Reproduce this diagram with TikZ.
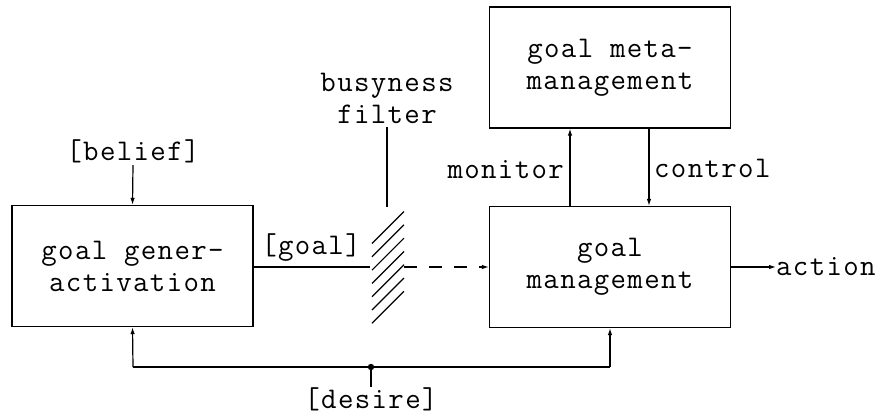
\documentclass[tikz,border=0pt]{standalone}
\usepackage{fontspec}
\newfontfamily\monofam{Latin Modern Mono}[LetterSpace=4.5]
\usetikzlibrary{arrows.meta}
\begin{document}
\begin{tikzpicture}[x=1pt,y=-1pt,
  every node/.style={font=\monofam\fontsize{30}{32}\selectfont, inner sep=0pt},
  box/.style={draw, line width=1.2pt, minimum width=241pt, minimum height=121pt, align=center},
  conn/.style={line width=1.2pt},
  arr/.style={conn, -{Latex[length=7pt,width=4.5pt]}},
  lbl/.style={align=center}]
\useasboundingbox (0,0) rectangle (880,416);
% boxes
\node[box] (gen) at (132.5,266) {goal gener-\\activation};
\node[box] (gm) at (610,267) {goal\\management};
\node[box, minimum height=121pt] (meta) at (610,67.5) {goal meta-\\management};
% labels
\node[lbl] (belief) at (133,151) {[belief]};
\node[lbl] (desire) at (371,399) {[desire]};
\node[lbl] (busy) at (387,98) {busyness\\filter};
\node[lbl, anchor=south] (goal) at (311,262) {[goal]};
\node[lbl, anchor=east] (monitor) at (564,170) {monitor};
\node[lbl, anchor=west] (control) at (654,168) {control};
\node[lbl, anchor=west] (action) at (776,267) {action};
% coordinates
\coordinate (fin) at (370,267);
\coordinate (fout) at (404,267);
\coordinate (ftop) at (387,207);
\coordinate (dot) at (371,367);
\coordinate (dl) at (133,367);
\coordinate (dr) at (610,367);
% belief arrow
\draw[arr] (belief.south |- 0,165) -- (gen.north);
% goal line
\draw[conn] (gen.east |- fin) -- (fin);
% filter hatch
\foreach \i in {0,...,6}{
  \draw[conn] (372,243.5+\i*13.3) -- (404,211.5+\i*13.3);
}
\draw[conn] (busy.south |- 0,127) -- (ftop);
% dashed arrow
\draw[arr, dash pattern=on 13pt off 12pt] (fout) -- (gm.west);
% monitor / control
\draw[arr] (gm.north -| 570,0) -- (meta.south -| 570,0);
\draw[arr] (meta.south -| 649,0) -- (gm.north -| 649,0);
% action
\draw[arr] (gm.east) -- (action.west);
% desire
\draw[conn] (dl) -- (dr);
\draw[arr] (dl) -- (gen.south);
\draw[arr] (dr) -- (gm.south);
\fill (dot) circle (3.2pt);
\draw[conn] (dot) -- (desire.north);
\end{tikzpicture}
\end{document}
